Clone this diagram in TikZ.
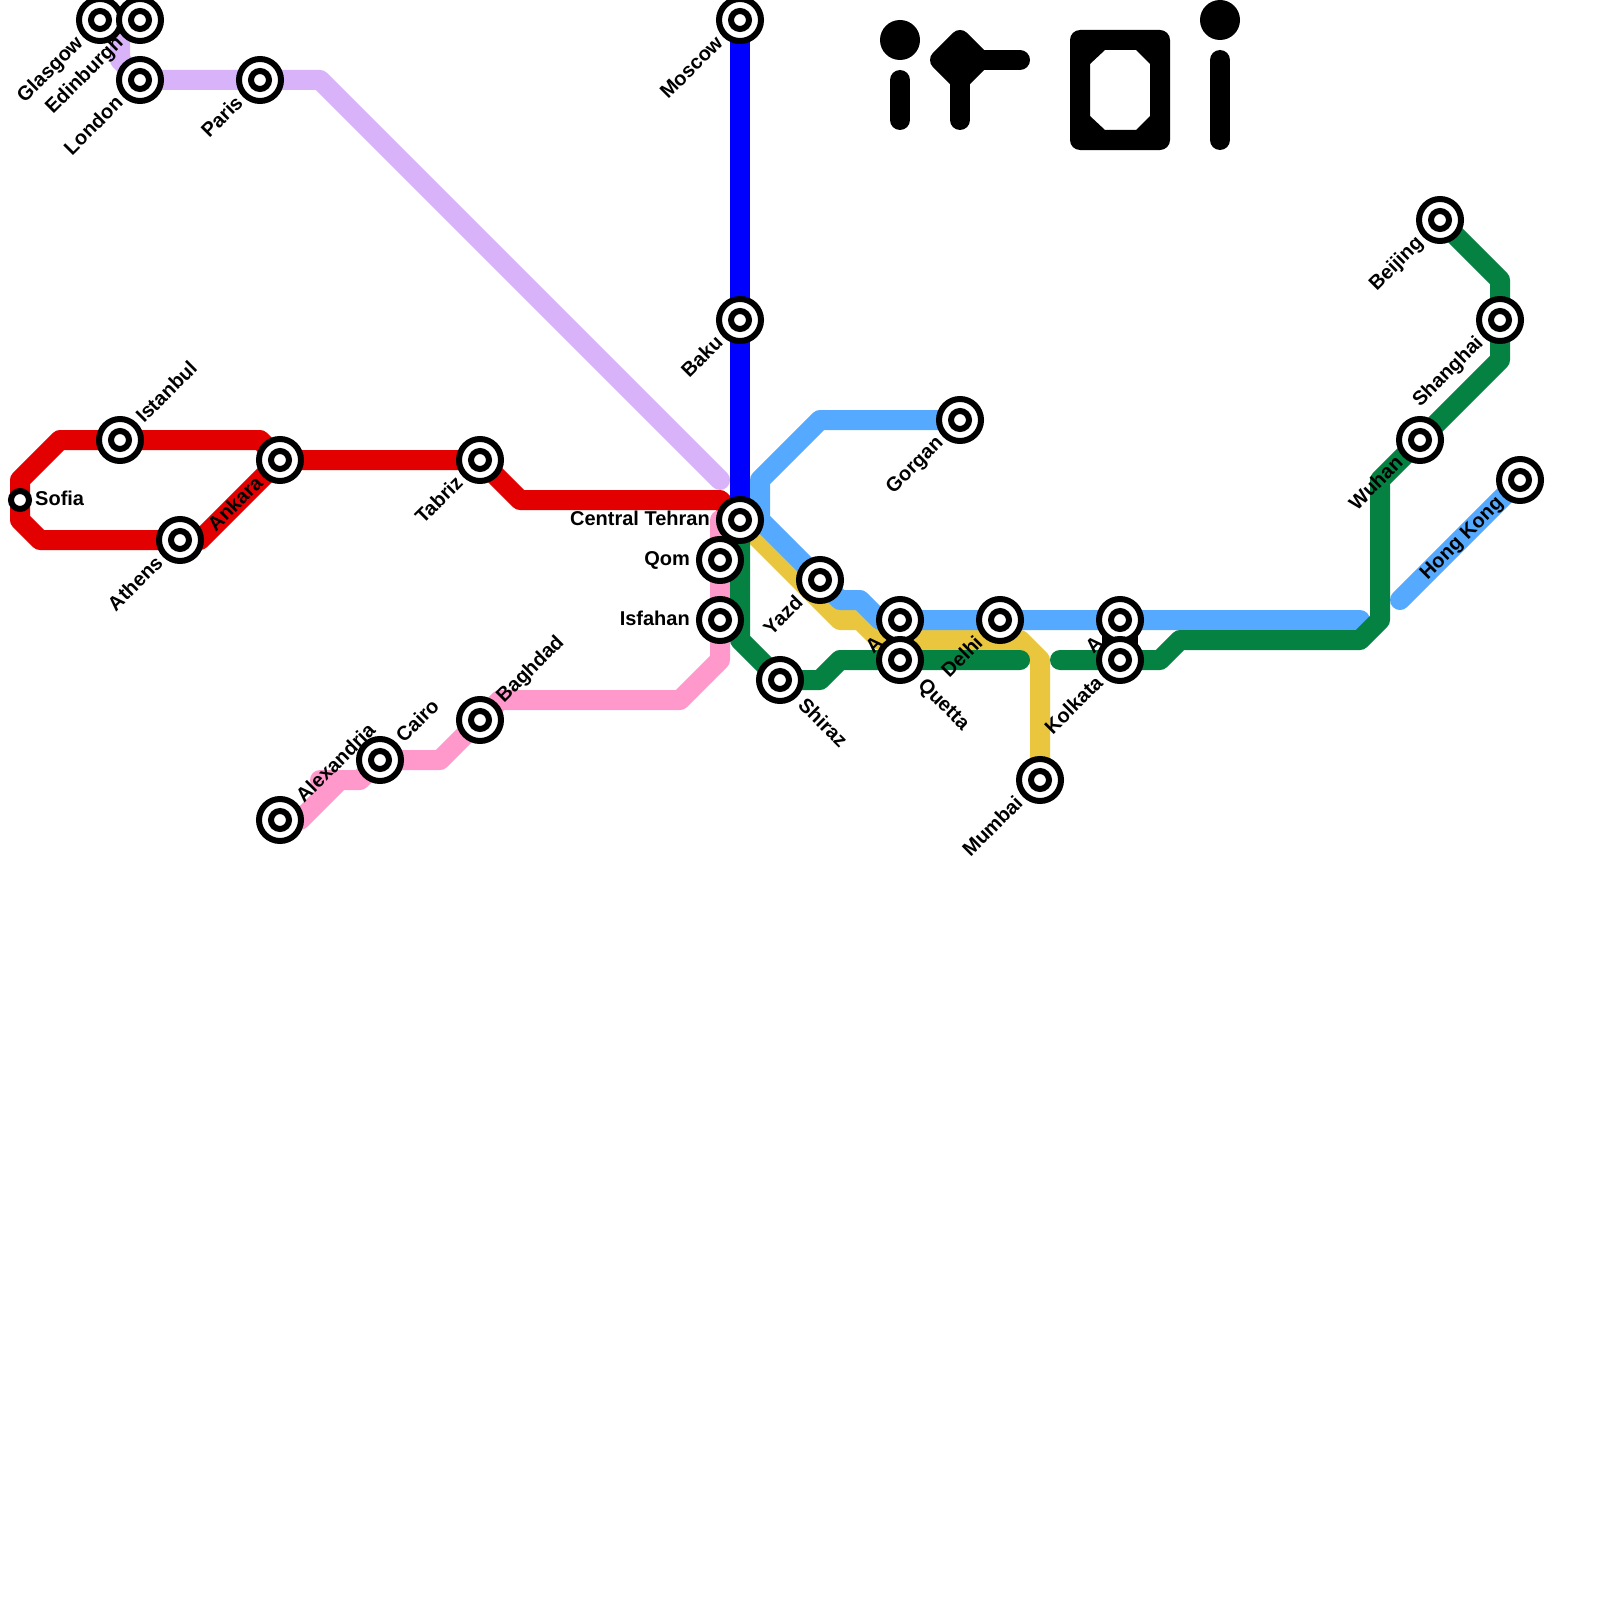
\documentclass[tikz,border=0pt]{standalone}
\usepackage{fontspec}
\setmainfont{Liberation Sans}
\definecolor{cRed}{HTML}{E30000}
\definecolor{cLilac}{HTML}{D9B3FA}
\definecolor{cPink}{HTML}{FF99CC}
\definecolor{cGreen}{HTML}{058241}
\definecolor{cYellow}{HTML}{EAC63F}
\definecolor{cSky}{HTML}{55AAFF}
\definecolor{cBlue}{HTML}{0000FF}
\tikzset{
  route/.style={line width=20pt,line cap=round,line join=round},
  stn/.style={circle,draw=black,fill=white,line width=6pt,minimum size=42pt,inner sep=0pt,
    path picture={\draw[line width=6pt,black] (path picture bounding box.center) circle (9pt);}},
  stnsmall/.style={circle,draw=black,fill=white,line width=6pt,minimum size=18pt,inner sep=0pt},
  lbl/.style={inner sep=0pt,text height=14.3pt,text depth=0pt,font=\fontsize{20}{20}\selectfont\bfseries},
  ll/.style={lbl,shift={(-21,19)},rotate=45,anchor=east},
  ur/.style={lbl,shift={(19,-21)},rotate=45,anchor=west},
  lr/.style={lbl,shift={(22,21)},rotate=-45,anchor=west},
  lf/.style={lbl,shift={(-30,-2)},anchor=east},
  rt/.style={lbl,shift={(15,-2)},anchor=west},
  glyph/.style={line width=20pt,line cap=round,line join=round,black}
}
\begin{document}
\begin{tikzpicture}[x=1pt,y=-1pt]
\useasboundingbox (0,0) rectangle (1600,1600);
% station positions
\foreach \n/\x/\y in {glasgow/100/20,edinburgh/140/20,london/140/80,paris/260/80,moscow/740/20,baku/740/320,gorgan/960/420,istanbul/120/440,sofia/20/500,athens/180/540,ankara/280/460,tabriz/480/460,tehran/740/520,qom/720/560,isfahan/720/620,yazd/820/580,shiraz/780/680,aone/900/620,quetta/900/660,delhi/1000/620,atwo/1120/620,kolkata/1120/660,mumbai/1040/780,baghdad/480/720,cairo/380/760,alexandria/280/820,beijing/1440/220,shanghai/1500/320,wuhan/1420/440,hongkong/1520/480}
  {\coordinate (\n) at (\x,\y);}
\coordinate (lilacfree) at (720,480);
\coordinate (greenendA) at (1020,660);
\coordinate (greenendB) at (1060,660);
\coordinate (skyend) at (1360,620);
\coordinate (hkend) at (1400,600);
% routes
\draw[route,cLilac] (glasgow) -- (120,40) -- (120,60) -- (london) -- (paris) -- (320,80) -- (lilacfree);
\draw[route,cRed] (ankara) -- (260,440) -- (istanbul) -- (60,440) -- (20,480) -- (sofia) -- (20,520) -- (40,540) -- (athens) -- (200,540) -- (ankara) -- (tabriz) -- (520,500) -- (720,500) -- (tehran);
\draw[route,cPink] (tehran) -- (720,520) -- (qom) -- (isfahan) -- (720,660) -- (680,700) -- (500,700) -- (baghdad) -- (440,760) -- (cairo) -- (360,780) -- (340,780) -- (300,820) -- (alexandria);
\draw[route,cPink] (320,780) -- (340,780);
\draw[route,cYellow] (tehran) -- (840,620) -- (860,620) -- (880,640) -- (1020,640) -- (1040,660) -- (mumbai);
\draw[route,cSky] (gorgan) -- (820,420) -- (760,480) -- (760,520) -- (yazd) -- (840,600) -- (860,600) -- (880,620) -- (aone) -- (delhi) -- (atwo) -- (skyend);
\draw[route,cSky] (hongkong) -- (hkend);
\draw[route,cBlue] (moscow) -- (baku) -- (tehran);
\draw[route,cGreen] (tehran) -- (740,640) -- (shiraz) -- (820,680) -- (840,660) -- (quetta) -- (greenendA);
\draw[route,cGreen] (greenendB) -- (kolkata) -- (1160,660) -- (1180,640) -- (1360,640) -- (1380,620) -- (1380,480) -- (wuhan) -- (1500,360) -- (shanghai) -- (1500,280) -- (beijing);
% glyphs
\fill[black] (900,40) circle (20);
\draw[glyph] (900,80) -- (900,120);
\draw[glyph,fill=black] (960,40) -- (940,60) -- (960,80) -- (980,60) -- cycle;
\draw[glyph] (960,60) -- (960,120);
\draw[glyph] (960,60) -- (1020,60);
\fill[black,even odd rule,rounded corners=10pt] (1070,30) rectangle (1170,150)
  [sharp corners] (1105,50) -- (1136,50) -- (1150,64) -- (1150,116) -- (1136,130) -- (1105,130) -- (1090,116) -- (1090,64) -- cycle;
\fill[black] (1220,20) circle (20);
\draw[glyph] (1220,60) -- (1220,140);
% labels
\node[ll] (lglasgow) at (glasgow) {Glasgow};
\node[ll] (ledinburgh) at (edinburgh) {Edinburgh};
\node[ll] (llondon) at (london) {London};
\node[ll] (lparis) at (paris) {Paris};
\node[ll] (lmoscow) at (moscow) {Moscow};
\node[ll] (lbaku) at (baku) {Baku};
\node[ll] (lgorgan) at (gorgan) {Gorgan};
\node[ur] (listanbul) at (istanbul) {Istanbul};
\node[rt] (lsofia) at (sofia) {Sofia};
\node[ll] (lathens) at (athens) {Athens};
\node[ll] (lankara) at (ankara) {Ankara};
\node[ll] (ltabriz) at (tabriz) {Tabriz};
\node[lf] (ltehran) at (tehran) {Central Tehran};
\node[lf] (lqom) at (qom) {Qom};
\node[lf] (lisfahan) at (isfahan) {Isfahan};
\node[ll] (lyazd) at (yazd) {Yazd};
\node[lr] (lshiraz) at (shiraz) {Shiraz};
\node[ll] (laone) at (aone) {A};
\node[lr] (lquetta) at (quetta) {Quetta};
\node[ll] (ldelhi) at (delhi) {Delhi};
\node[ll] (latwo) at (atwo) {A};
\node[ll] (lkolkata) at (kolkata) {Kolkata};
\node[ll] (lmumbai) at (mumbai) {Mumbai};
\node[ur] (lbaghdad) at (baghdad) {Baghdad};
\node[ur] (lcairo) at (cairo) {Cairo};
\node[ur] (lalexandria) at (alexandria) {Alexandria};
\node[ll] (lbeijing) at (beijing) {Beijing};
\node[ll] (lshanghai) at (shanghai) {Shanghai};
\node[ll] (lwuhan) at (wuhan) {Wuhan};
\node[ll] (lhongkong) at (hongkong) {Hong Kong};
% bridge
\draw[black,line width=36pt] (atwo) -- (kolkata);
% stations
\foreach \n in {glasgow,edinburgh,london,paris,moscow,baku,gorgan,istanbul,athens,ankara,tabriz,tehran,qom,isfahan,yazd,shiraz,aone,quetta,delhi,atwo,kolkata,mumbai,baghdad,cairo,alexandria,beijing,shanghai,wuhan,hongkong}
  {\node[stn] (s\n) at (\n) {};}
\node[stnsmall] (ssofia) at (sofia) {};
\end{tikzpicture}
\end{document}
